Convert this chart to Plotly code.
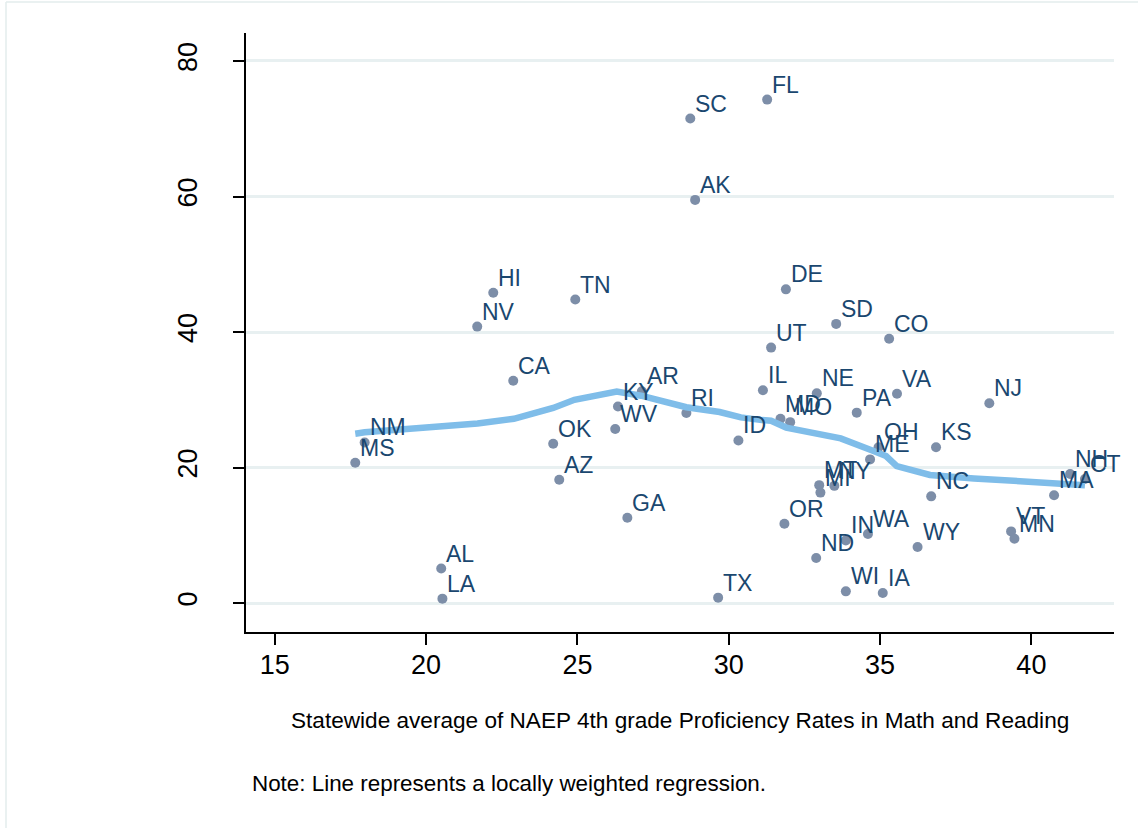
import plotly.graph_objects as go

# ---- data ----
states = ["FL", "SC", "AK", "DE", "HI", "TN", "NV", "SD", "CO", "UT",
          "CA", "IL", "NE", "VA", "NJ", "PA", "MD", "MO", "ID", "OH",
          "ME", "KS", "NC", "MT", "MI", "NY", "OR", "IN", "WA", "ND",
          "WY", "WI", "IA", "NH", "CT", "MA", "VT", "MN", "AR", "KY",
          "WV", "RI", "OK", "AZ", "GA", "TX", "AL", "LA", "NM", "MS"]
naep = [31.27, 28.73, 28.89, 31.89, 22.22, 24.93, 21.69, 33.55, 35.30, 31.40,
        22.88, 31.13, 32.91, 35.56, 38.61, 34.23, 31.71, 32.03, 30.32, 34.95,
        34.67, 36.85, 36.69, 32.99, 33.03, 33.49, 31.84, 33.87, 34.60, 32.89,
        36.24, 33.87, 35.09, 41.28, 41.77, 40.75, 39.33, 39.44, 27.13, 26.34,
        26.25, 28.60, 24.20, 24.40, 26.65, 29.65, 20.50, 20.54, 17.97, 17.66]
outcome = [74.3, 71.5, 59.5, 46.3, 45.8, 44.8, 40.8, 41.2, 39.0, 37.7,
           32.8, 31.4, 30.95, 30.9, 29.5, 28.1, 27.2, 26.7, 24.0, 23.0,
           21.2, 23.0, 15.75, 17.4, 16.3, 17.3, 11.7, 9.25, 10.2, 6.65,
           8.28, 1.73, 1.49, 19.06, 18.3, 15.9, 10.58, 9.5, 31.25, 29.0,
           25.7, 28.06, 23.5, 18.2, 12.6, 0.8, 5.1, 0.65, 23.7, 20.7]

lowess_x = [17.66, 17.97, 20.0, 21.7, 22.9, 24.2, 24.9, 26.3, 27.1, 28.6,
            29.7, 30.4, 31.1, 31.4, 31.9, 32.9, 33.7, 34.7, 35.2, 35.55,
            36.65, 38.1, 39.0, 40.75, 41.77]
lowess_y = [25.0, 25.2, 25.9, 26.5, 27.2, 28.8, 30.0, 31.2, 30.6, 28.9,
            28.2, 27.4, 27.0, 26.9, 25.9, 25.1, 24.3, 22.6, 21.7, 20.2,
            18.9, 18.4, 18.1, 17.7, 17.4]

x_ticks = [15, 20, 25, 30, 35, 40]
y_ticks = [0, 20, 40, 60, 80]

x_title = "Statewide average of NAEP 4th grade Proficiency Rates in Math and Reading"
note = "Note: Line represents a locally weighted regression."

FONT = "Liberation Sans, Arial, Helvetica, sans-serif"
W, H = 1138, 828
ML, MR, MT, MB = 246, 24, 33, 196
PW, PH = W - ML - MR, H - MT - MB

def px_to_paper_x(px):
    return (px - ML) / PW

def px_to_paper_y(py):
    return (H - MB - py) / PH

fig = go.Figure()

fig.add_trace(go.Scatter(
    x=naep, y=outcome, mode="markers",
    marker=dict(color="#7d8ea8", size=10, line=dict(width=0)),
    hoverinfo="text", text=states, showlegend=False,
))

fig.add_trace(go.Scatter(
    x=lowess_x, y=lowess_y, mode="lines",
    line=dict(color="#7fbde9", width=6.5),
    showlegend=False, hoverinfo="skip",
))

annotations = []
for s, xv, yv in zip(states, naep, outcome):
    annotations.append(dict(
        x=xv, y=yv, xref="x", yref="y", text=s, showarrow=False,
        xanchor="left", yanchor="middle", xshift=3, yshift=15,
        font=dict(family=FONT, size=23, color="#1a476f"),
    ))

annotations.append(dict(
    x=px_to_paper_x(680), y=px_to_paper_y(720), xref="paper", yref="paper",
    text=x_title, showarrow=False, xanchor="center", yanchor="middle",
    font=dict(family=FONT, size=22.6, color="black"),
))
annotations.append(dict(
    x=px_to_paper_x(250), y=px_to_paper_y(784), xref="paper", yref="paper",
    text=note, showarrow=False, xanchor="left", yanchor="middle",
    font=dict(family=FONT, size=22.4, color="black"),
))

border = dict(color="#e3eced", width=1.5)
shapes = [
    dict(type="line", xref="paper", yref="paper",
         x0=px_to_paper_x(6), x1=px_to_paper_x(1138),
         y0=px_to_paper_y(2), y1=px_to_paper_y(2), line=border, layer="below"),
    dict(type="line", xref="paper", yref="paper",
         x0=px_to_paper_x(6), x1=px_to_paper_x(6),
         y0=px_to_paper_y(2), y1=px_to_paper_y(828), line=border, layer="below"),
]

fig.update_layout(
    width=W, height=H,
    margin=dict(l=ML, r=MR, t=MT, b=MB, pad=0),
    paper_bgcolor="white", plot_bgcolor="white",
    font=dict(family=FONT, color="black"),
    annotations=annotations, shapes=shapes,
    showlegend=False,
)

fig.update_xaxes(
    range=[14.05, 42.73], tickvals=x_ticks, ticktext=[str(v) for v in x_ticks],
    showgrid=False, zeroline=False,
    showline=True, linecolor="black", linewidth=1.5,
    ticks="outside", ticklen=11, tickwidth=1.5, tickcolor="black",
    tickfont=dict(family=FONT, size=27, color="black"),
    ticklabelstandoff=-3,
)
fig.update_yaxes(
    range=[-4.27, 84.13], tickvals=y_ticks, ticktext=[str(v) for v in y_ticks],
    showgrid=True, gridcolor="#e8f0f1", gridwidth=3,
    zeroline=False,
    showline=True, linecolor="black", linewidth=1.5,
    ticks="outside", ticklen=11, tickwidth=1.5, tickcolor="black",
    tickangle=-90,
    tickfont=dict(family=FONT, size=27, color="black"),
    ticklabelstandoff=25,
)

fig.write_html("out.html", config={"displayModeBar": False},
               post_script="document.body.style.margin='0';")
